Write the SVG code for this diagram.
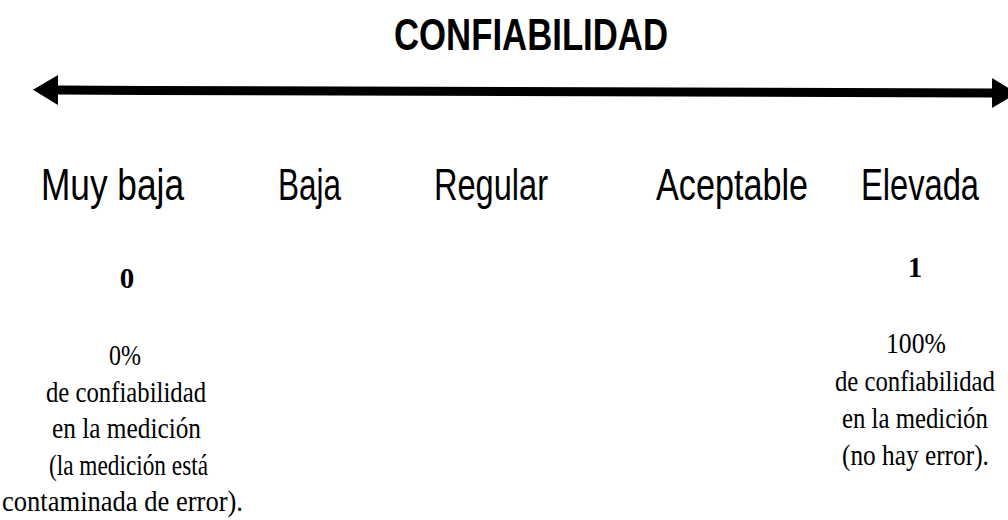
<svg xmlns="http://www.w3.org/2000/svg" width="1008" height="520" viewBox="0 0 1008 520">
<defs>
<style>
.title{font-family:"Liberation Sans",Arial,sans-serif;font-weight:bold;font-size:45px;fill:#000}
.lvl{font-family:"Liberation Sans",Arial,sans-serif;font-size:45px;fill:#000}
.num{font-family:"Liberation Serif","Times New Roman",serif;font-weight:bold;font-size:29px;fill:#000;text-anchor:middle}
.body{font-family:"Liberation Serif","Times New Roman",serif;font-size:29px;fill:#000}
.axis{stroke:#000;stroke-width:9;fill:none}
</style>
<marker id="head" markerUnits="userSpaceOnUse" markerWidth="26" markerHeight="32" refX="1" refY="15" orient="auto-start-reverse">
<path d="M0,0 L25,15 L0,30 Z" fill="#000"/>
</marker>
</defs>
<rect width="1008" height="520" fill="#fff"/>
<g id="title"><text class="title" x="394" y="50" textLength="274" lengthAdjust="spacingAndGlyphs">CONFIABILIDAD</text></g>
<g id="connectors"><path class="axis" d="M57,90 L145,90.5 L993,93" marker-start="url(#head)" marker-end="url(#head)"/></g>
<g id="muy-baja"><text class="lvl" x="41" y="200" textLength="143" lengthAdjust="spacingAndGlyphs">Muy baja</text></g>
<g id="baja"><text class="lvl" x="278" y="200" textLength="63" lengthAdjust="spacingAndGlyphs">Baja</text></g>
<g id="regular"><text class="lvl" x="434" y="200" textLength="114" lengthAdjust="spacingAndGlyphs">Regular</text></g>
<g id="aceptable"><text class="lvl" x="656" y="200" textLength="152" lengthAdjust="spacingAndGlyphs">Aceptable</text></g>
<g id="elevada"><text class="lvl" transform="translate(861,200) scale(0.726,1)">Elevada</text></g>
<g id="zero">
<text class="num" x="127" y="288">0</text>
<text class="body" x="109" y="365" textLength="32" lengthAdjust="spacingAndGlyphs">0%</text>
<text class="body" x="46" y="402" textLength="160" lengthAdjust="spacingAndGlyphs">de confiabilidad</text>
<text class="body" x="52" y="438" textLength="149" lengthAdjust="spacingAndGlyphs">en la medición</text>
<text class="body" x="49" y="475" textLength="159" lengthAdjust="spacingAndGlyphs">(la medición está</text>
<text class="body" x="2" y="511" textLength="241" lengthAdjust="spacingAndGlyphs">contaminada de error).</text>
</g>
<g id="one">
<text class="num" x="915" y="277">1</text>
<text class="body" transform="translate(886,353) scale(0.886,1)">100%</text>
<text class="body" transform="translate(835,391) scale(0.853,1)">de confiabilidad</text>
<text class="body" transform="translate(842,428) scale(0.855,1)">en la medición</text>
<text class="body" transform="translate(842,465) scale(0.873,1)">(no hay error).</text>
</g>
</svg>
